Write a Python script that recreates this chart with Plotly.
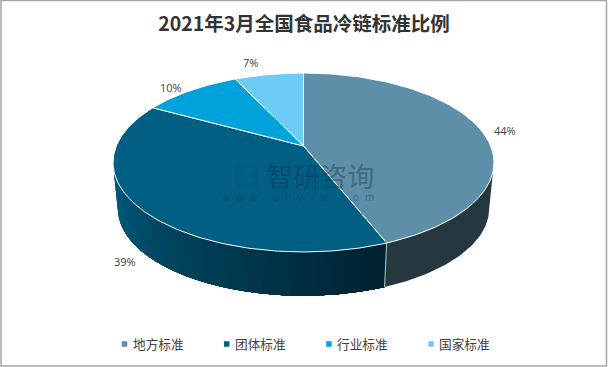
import math
import plotly.graph_objects as go

CATEGORIES = ["地方标准", "团体标准", "行业标准", "国家标准"]
VALUES = [44, 39, 10, 7]
LABELS = ["44%", "39%", "10%", "7%"]
TITLE = "2021年3月全国食品冷链标准比例"

TOP_COLORS = ["#5E8FA8", "#005F83", "#00A2DB", "#6DCCF5"]
SIDE_DARK = (0, 33, 47)
SIDE_LIGHT = (0, 93, 128)
SIDE_FIRST = "#26383F"
# label offset (px) from the rim point at each slice's middle angle
LABEL_OFFSETS = [(24, 0), (-19, 50), (-20, -3), (-18, -12)]

W, H = 608, 367
CX, APEX_Y = 303.5, 146.0
A, B, K = 187.2, 86.4, 0.1844   # perspective disc
DEPTH, BOTTOM_SCALE = 46.4, 0.975
CJK = "Noto Sans CJK SC"
LEGEND_X0, LEGEND_STEP, LEGEND_Y = 124.5, 102.2, 344.0


def rim(theta, scale=1.0, dy=0.0):
    s, c = math.sin(theta), math.cos(theta)
    d = 1 + K * c
    return CX + scale * A * s / d, APEX_Y + dy - scale * B * c / d


def arc(t0, t1, scale=1.0, dy=0.0, step=math.radians(1.0)):
    n = max(2, int(abs(t1 - t0) / step) + 1)
    pts = [rim(t0 + (t1 - t0) * i / n, scale, dy) for i in range(n + 1)]
    return [p[0] for p in pts], [p[1] for p in pts]


def band(t0, t1):
    x1, y1 = arc(t0, t1)
    x2, y2 = arc(t1, t0, BOTTOM_SCALE, DEPTH)
    return x1 + x2 + [x1[0]], y1 + y2 + [y1[0]]


total = sum(VALUES)
edges = [0.0]
for v in VALUES:
    edges.append(edges[-1] + 2 * math.pi * v / total)

fig = go.Figure()
base = dict(mode="lines", fill="toself", hoverinfo="skip", showlegend=False)
sil_r = math.acos(-K)
sil_l = 2 * math.pi - sil_r

# side of first slice
xs, ys = band(sil_r, edges[1])
fig.add_trace(go.Scatter(x=xs, y=ys, fillcolor=SIDE_FIRST,
                         line=dict(color=SIDE_FIRST, width=0), **base))

# side of second slice as a gradient: painted light to dark, each band covering the rest
N = 44
for i in range(N - 1, -1, -1):
    t1 = edges[1] + (sil_l - edges[1]) * (i + 1) / N
    f = (i + 0.5) / N
    col = "rgb(%d,%d,%d)" % tuple(round(a + (b - a) * f) for a, b in zip(SIDE_DARK, SIDE_LIGHT))
    xs, ys = band(edges[1], t1)
    fig.add_trace(go.Scatter(x=xs, y=ys, fillcolor=col, line=dict(color=col, width=0), **base))

# seam between both sides
sx0, sy0 = rim(edges[1])
sx1, sy1 = rim(edges[1], BOTTOM_SCALE, DEPTH)
fig.add_trace(go.Scatter(x=[sx0, sx1], y=[sy0, sy1], mode="lines",
                         line=dict(color="rgba(255,255,255,0.75)", width=1),
                         hoverinfo="skip", showlegend=False))

# top faces
for i, name in enumerate(CATEGORIES):
    ax, ay = arc(edges[i], edges[i + 1])
    fig.add_trace(go.Scatter(x=[CX] + ax + [CX], y=[APEX_Y] + ay + [APEX_Y], mode="lines",
                             fill="toself", fillcolor=TOP_COLORS[i],
                             line=dict(color="white", width=1), name=name,
                             hoverinfo="skip", showlegend=False))

annotations = []
for i, lab in enumerate(LABELS):
    mx, my = rim((edges[i] + edges[i + 1]) / 2)
    annotations.append(dict(x=mx, y=my, text=lab, showarrow=False,
                            xshift=LABEL_OFFSETS[i][0], yshift=-LABEL_OFFSETS[i][1],
                            font=dict(family="Open Sans, Liberation Sans", size=11, color="#404040")))

# legend row: square keys with their names
for i, name in enumerate(CATEGORIES):
    lx = LEGEND_X0 + i * LEGEND_STEP
    fig.add_trace(go.Scatter(x=[lx], y=[LEGEND_Y], mode="markers", name=name, showlegend=False,
                             hoverinfo="skip",
                             marker=dict(symbol="square", size=5.5, color=TOP_COLORS[i])))
    annotations.append(dict(x=lx + 6, y=LEGEND_Y - 0.5, text=name, showarrow=False, xanchor="left",
                            font=dict(family=CJK, size=12.7, color="#404040")))

# watermark: both lines in one text, right aligned
WM_URL = "\u00a0\u00a0".join("www.chyxx.com")
annotations.append(dict(x=376, y=179, xanchor="right", align="right", showarrow=False,
                        text="<span style='font-size:27px;font-family:Noto Sans CJK SC'>智研咨询</span><br>%s" % WM_URL,
                        font=dict(family="Liberation Sans", size=11, color="rgba(15,50,75,0.42)")))

LOGO = "rgba(10,80,150,0.42)"
shapes = [
    dict(type="rect", x0=1, y0=0.5, x1=606.5, y1=366, line=dict(color="#A6A6A6", width=1.5), layer="below"),
    dict(type="path", path="M235,165 H250 L241,172 V188 H235 Z", fillcolor=LOGO, line_width=0),
    dict(type="path", path="M253,165 H258 V188 H241 L245,183 H253 V178 H245 L249,173 H253 Z", fillcolor=LOGO, line_width=0),
]

fig.update_layout(
    width=W, height=H, margin=dict(l=0, r=0, t=0, b=0),
    paper_bgcolor="white", plot_bgcolor="white",
    title=dict(text="<b>%s</b>" % TITLE, x=0.5, xanchor="center", y=0.935, yanchor="middle",
               font=dict(family=CJK, size=19.5, color="#333333")),
    xaxis=dict(range=[0, W], visible=False, fixedrange=True),
    yaxis=dict(range=[H, 0], visible=False, fixedrange=True),
    showlegend=False,
    annotations=annotations, shapes=shapes,
)
fig.write_html("out.html", config={"displayModeBar": False},
               post_script="document.body.style.margin='0';document.body.style.overflow='hidden';")
